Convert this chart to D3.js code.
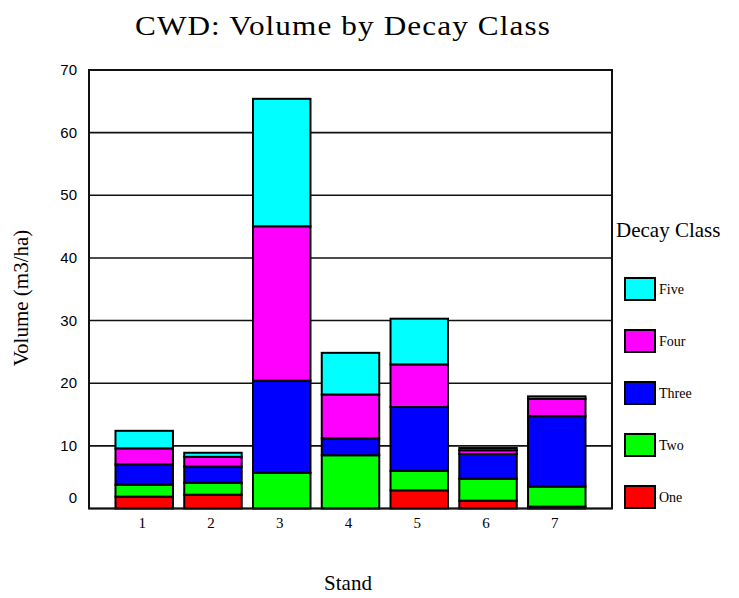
<!DOCTYPE html>
<html>
<head>
<meta charset="utf-8">
<script src="https://cdn.jsdelivr.net/npm/d3@7"></script>
<style>
  body { margin: 0; background: #fff; }
  text { font-family: "Liberation Serif", "Times New Roman", serif; fill: #000; }
</style>
</head>
<body>
<div id="chart"></div>
<script>
var stands = ['1', '2', '3', '4', '5', '6', '7']
var classes = ['One', 'Two', 'Three', 'Four', 'Five']
var one = [1.9, 2.2, 0, 0, 2.9, 1.25, 0.3]
var two = [1.9, 1.9, 5.7, 8.5, 3.1, 3.5, 3.2]
var three = [3.25, 2.6, 14.7, 2.7, 10.2, 3.95, 11.25]
var four = [2.55, 1.55, 24.65, 7.0, 6.8, 0.6, 2.75]
var five = [2.8, 0.65, 20.35, 6.65, 7.3, 0.35, 0.4]
var yTicks = [0, 10, 20, 30, 40, 50, 60, 70]
var colors = ['#FF0000', '#00FF00', '#0000FF', '#FF00FF', '#00FFFF']

var width = 739,
    height = 598,
    plotLeft = 89, plotRight = 612, plotTop = 70, plotBottom = 508.5

var rows = stands.map(function(s, i) {
    return { stand: s, One: one[i], Two: two[i], Three: three[i], Four: four[i], Five: five[i] }
})

var x = d3.scaleBand()
    .domain(stands)
    .range([plotLeft, plotRight])
    .paddingInner(0.164)
    .paddingOuter(0.385)

var y = d3.scaleLinear()
    .domain([0, 70])
    .range([plotBottom, plotTop])

var color = d3.scaleOrdinal().domain(classes).range(colors)

var svg = d3.select('#chart').append('svg')
    .attr('width', width)
    .attr('height', height)

// title
svg.append('text')
    .attr('x', 343)
    .attr('y', 35)
    .attr('text-anchor', 'middle')
    .attr('font-size', 28)
    .attr('textLength', 416)
    .attr('lengthAdjust', 'spacingAndGlyphs')
    .style('letter-spacing', '1px')
    .text('CWD: Volume by Decay Class')

// gridlines
svg.append('g').selectAll('line')
    .data(yTicks)
    .enter().append('line')
        .attr('x1', plotLeft).attr('x2', plotRight)
        .attr('y1', function(d) { return y(d) })
        .attr('y2', function(d) { return y(d) })
        .attr('stroke', '#111')
        .attr('stroke-width', 1.6)

// y tick labels
svg.append('g').selectAll('text')
    .data(yTicks)
    .enter().append('text')
        .attr('x', 77)
        .attr('y', function(d) { return y(d) + (d === 0 ? -6 : 5) })
        .attr('text-anchor', 'end')
        .attr('font-size', 15)
        .style('font-family', '"Liberation Sans", Arial, sans-serif')
        .text(function(d) { return d })

// stacked bars
var series = d3.stack().keys(classes)(rows)

svg.append('g').selectAll('g')
    .data(series)
    .enter().append('g')
        .attr('fill', function(d) { return color(d.key) })
    .selectAll('rect')
    .data(function(d) { return d })
    .enter().append('rect')
        .attr('x', function(d) { return x(d.data.stand) })
        .attr('width', x.bandwidth())
        .attr('y', function(d) { return y(d[1]) })
        .attr('height', function(d) { return y(d[0]) - y(d[1]) })
        .attr('stroke', '#000')
        .attr('stroke-width', 2)

// plot frame
svg.append('rect')
    .attr('x', plotLeft).attr('y', plotTop)
    .attr('width', plotRight - plotLeft).attr('height', plotBottom - plotTop)
    .attr('fill', 'none')
    .attr('stroke', '#111')
    .attr('stroke-width', 2)

// x tick labels
svg.append('g').selectAll('text')
    .data(stands)
    .enter().append('text')
        .attr('x', function(d) { return x(d) + x.bandwidth() / 2 - 2 })
        .attr('y', 528)
        .attr('text-anchor', 'middle')
        .attr('font-size', 15)
        .text(function(d) { return d })

// axis titles
svg.append('text')
    .attr('x', 348)
    .attr('y', 590)
    .attr('text-anchor', 'middle')
    .attr('font-size', 21)
    .text('Stand')

svg.append('text')
    .attr('transform', 'translate(28,298) rotate(-90)')
    .attr('text-anchor', 'middle')
    .attr('font-size', 21)
    .text('Volume (m3/ha)')

// legend
svg.append('text')
    .attr('x', 616)
    .attr('y', 237)
    .attr('font-size', 21)
    .text('Decay Class')

var legend = svg.append('g').selectAll('g')
    .data(classes.slice().reverse())
    .enter().append('g')
        .attr('transform', function(d, i) { return 'translate(625,' + (278 + i * 52) + ')' })

legend.append('rect')
    .attr('width', 30)
    .attr('height', 22)
    .attr('fill', function(d) { return color(d) })
    .attr('stroke', '#000')
    .attr('stroke-width', 2)

legend.append('text')
    .attr('x', 34)
    .attr('y', 16)
    .attr('font-size', 14)
    .text(function(d) { return d })
</script>
</body>
</html>
